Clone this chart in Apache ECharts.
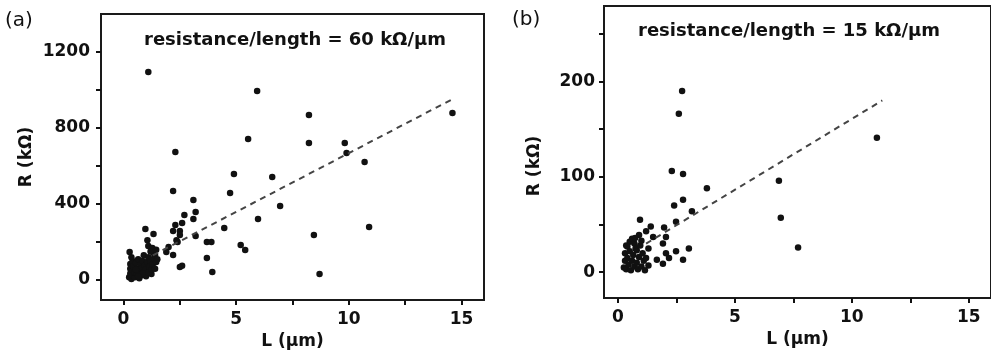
<!DOCTYPE html>
<html><head><meta charset="utf-8">
<script src="https://cdn.jsdelivr.net/npm/echarts@6/dist/echarts.min.js"></script>
<style>html,body{margin:0;padding:0;background:#fff}#c{width:991px;height:357px}</style>
</head><body><div id="c"></div>
<script>
// Panel (a) scatter data: L (µm), R (kΩ)
const aL = [1.1,2.3,4.9,5.93,8.23,5.53,8.23,9.82,9.9,10.7,14.6,6.6,4.73,6.95,5.97,8.45,10.9,5.2,5.4,8.7,
  2.2,3.1,3.2,3.1,4.47,3.2,3.7,3.9,3.7,3.94,2.5,2.2,2.7,2.6,2.5,2.3,2.2,2.35,2.4,2.0,1.9,2.6,2.5,
  0.97,1.33,1.06,1.1,1.28,1.33,0.27,1.24,
  0.25,0.3,0.3,0.3,0.35,0.4,0.4,0.4,0.45,0.5,0.5,0.55,0.6,0.6,0.65,0.7,0.7,0.75,0.8,0.8,0.85,0.9,0.9,0.95,
  1.0,1.0,1.05,1.1,1.1,1.15,1.2,1.25,1.3,1.35,1.4,1.45,1.4,0.55,0.35,1.2,0.85,0.65,1.45,1.5];
const aR = [1095,674,558,995,868,742,721,721,668,621,879,542,458,389,321,237,279,184,158,32,
  468,421,358,321,274,232,200,200,116,42,68,132,342,300,258,290,258,210,200,174,147,75,237,
  268,242,210,179,168,142,147,32,
  15,35,60,85,5,25,50,100,70,15,40,90,30,60,110,10,45,80,25,60,100,40,130,75,
  20,55,95,40,120,70,100,55,85,115,60,95,130,55,120,150,35,20,160,110];
// Panel (b) scatter data
const bL = [2.74,2.6,2.3,2.78,3.8,2.78,2.4,3.16,2.48,0.94,1.4,1.2,1.97,1.5,2.05,0.9,1.92,3.03,2.48,2.78,2.18,1.92,1.66,1.3,1.3,0.4,0.7,0.8,2.05,
  6.88,6.96,7.7,11.07,
  0.25,0.3,0.3,0.35,0.4,0.45,0.5,0.55,0.6,0.65,0.7,0.75,0.8,0.85,0.9,0.95,1.0,1.05,1.1,1.15,1.2,0.5,0.35,0.6,1.0,0.73];
const bR = [190,166,106,103,88,76,70,64,53,55,48,43,47,37,37,39,30,25,22,13,15,9,13,7,25,27,30,23,20,
  96,57,26,141,
  5,12,20,3,15,8,22,2,12,18,6,25,10,3,16,28,6,20,12,2,15,32,28,35,33,36];
// Linear fits (dashed lines)
const fitAL = [1.3, 14.6], fitAR = [130, 952];
const fitBL = [1.2, 11.3], fitBR = [30, 180];
// Axis ticks / labels
const xTicks = [0,2.5,5,7.5,10,12.5,15], xLabels = [0,5,10,15];
const aYTicks = [0,200,400,600,800,1000,1200], aYLabels = [0,400,800,1200];
const bYTicks = [0,50,100,150,200,250], bYLabels = [0,100,200];
const titleA = 'resistance/length = 60 kΩ/μm', titleB = 'resistance/length = 15 kΩ/μm';

const zip = (x, y) => x.map((v, i) => [v, y[i]]);
const FF = 'DejaVu Sans';
const ink = '#111';
const fmt = v => String(v);
function xAx(idx, max, min) {
  return {gridIndex: idx, type: 'value', min: min, max: max,
    name: 'L (μm)', nameLocation: 'middle', nameGap: 31,
    nameTextStyle: {fontFamily: FF, fontWeight: 'bold', fontSize: 17, color: ink},
    axisLine: {show: false, onZero: false}, splitLine: {show: false},
    axisTick: {show: true, inside: false, length: 5, customValues: xTicks, lineStyle: {color: ink, width: 2}},
    axisLabel: {customValues: xLabels, formatter: fmt, margin: 11, fontFamily: FF, fontWeight: 'bold', fontSize: 17, color: ink}};
}
function yAx(idx, min, max, ticks, labels, gap, pad, margin) {
  return {gridIndex: idx, type: 'value', min: min, max: max,
    name: 'R (kΩ)', nameLocation: 'middle', nameGap: gap,
    nameTextStyle: {fontFamily: FF, fontWeight: 'bold', fontSize: 17, color: ink, padding: pad},
    axisLine: {show: false, onZero: false}, splitLine: {show: false},
    axisTick: {show: true, inside: false, length: 5, customValues: ticks, lineStyle: {color: ink, width: 2}},
    axisLabel: {customValues: labels, formatter: fmt, margin: margin, fontFamily: FF, fontWeight: 'bold', fontSize: 17, color: ink}};
}
const chart = echarts.init(document.getElementById('c'));
chart.setOption({
  animation: false,
  backgroundColor: '#fff',
  title: [
    {text: titleA, left: 144, top: 31, padding: 0, textStyle: {fontFamily: FF, fontWeight: 'bold', fontSize: 18, color: ink}},
    {text: titleB, left: 638, top: 22, padding: 0, textStyle: {fontFamily: FF, fontWeight: 'bold', fontSize: 18, color: ink}},
    {text: '(a)', left: 5, top: 11, padding: 0, textStyle: {fontFamily: FF, fontWeight: 'normal', fontSize: 20, color: ink}},
    {text: '(b)', left: 512, top: 10, padding: 0, textStyle: {fontFamily: FF, fontWeight: 'normal', fontSize: 20, color: ink}}
  ],
  grid: [
    {left: 101, top: 14, right: 507, bottom: 57, show: true, borderWidth: 2, borderColor: '#1a1a1a', backgroundColor: 'transparent'},
    {left: 604, top: 6, right: -3, bottom: 59, show: true, borderWidth: 2, borderColor: '#1a1a1a', backgroundColor: 'transparent'}
  ],
  xAxis: [xAx(0, 16, -1), xAx(1, 15.95, -0.6)],
  yAxis: [yAx(0, -105, 1400, aYTicks, aYLabels, 66, 0, 11), yAx(1, -27, 279, bYTicks, bYLabels, 61, [0, 28, 0, 0], 9)],
  series: [
    {type: 'scatter', xAxisIndex: 0, yAxisIndex: 0, data: zip(aL, aR), symbol: 'circle', symbolSize: 6.5, itemStyle: {color: ink, opacity: 1}},
    {type: 'line', xAxisIndex: 0, yAxisIndex: 0, data: zip(fitAL, fitAR), symbol: 'none', lineStyle: {color: '#444', width: 2, type: [6, 5]}},
    {type: 'scatter', xAxisIndex: 1, yAxisIndex: 1, data: zip(bL, bR), symbol: 'circle', symbolSize: 6.5, itemStyle: {color: ink, opacity: 1}},
    {type: 'line', xAxisIndex: 1, yAxisIndex: 1, data: zip(fitBL, fitBR), symbol: 'none', lineStyle: {color: '#444', width: 2, type: [6, 5]}}
  ]
});
</script></body></html>
